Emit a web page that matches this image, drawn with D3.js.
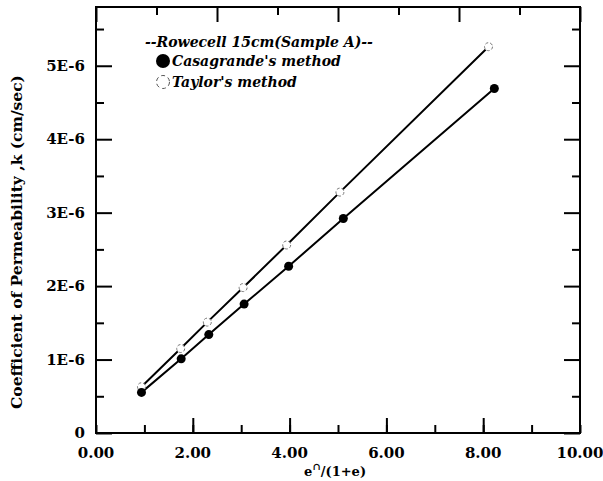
<!DOCTYPE html>
<html>
<head>
<meta charset="utf-8">
<script src="https://cdn.jsdelivr.net/npm/d3@7"></script>
<style>
  body { margin: 0; background: #fff; }
  text { font-family: "DejaVu Serif", "Liberation Serif", serif; }
</style>
</head>
<body>
<div id="chart"></div>
<script>
// values (x = e^n/(1+e), y = k in 1E-6 cm/sec)
var casaX = [0.94, 1.76, 2.33, 3.06, 3.98, 5.11, 8.23]
var casaY = [0.553, 1.01, 1.34, 1.755, 2.27, 2.92, 4.69]
var taylorX = [0.94, 1.75, 2.30, 3.04, 3.94, 5.04, 8.11]
var taylorY = [0.63, 1.15, 1.51, 1.98, 2.56, 3.28, 5.26]
var xTickLabels = ["0.00", "2.00", "4.00", "6.00", "8.00", "10.00"]
var yTickLabels = ["0", "1E-6", "2E-6", "3E-6", "4E-6", "5E-6"]

var W = 603, H = 481
var margin = { top: 7, right: 23, bottom: 48, left: 96 }
var width = W - margin.left - margin.right,
  height = H - margin.top - margin.bottom

var svg = d3.select("#chart")
  .append("svg")
  .attr("width", W)
  .attr("height", H)
  .append("g")
  .attr("transform", "translate(" + margin.left + "," + margin.top + ")");

var x = d3.scaleLinear().domain([0, 10]).range([0, width])
var y = d3.scaleLinear().domain([0, 5.8]).range([height, 0])

// frame
svg.append("rect")
  .attr("width", width).attr("height", height)
  .attr("fill", "none").attr("stroke", "#000").attr("stroke-width", 2)

// inward ticks
var xMinor = d3.range(0, 10.01, 1)
var yMinor = d3.range(0, 5.8, 0.5)
var topTicks = d3.range(0, 10.01, 1.25)

svg.append("g")
  .attr("transform", "translate(0," + height + ")")
  .call(d3.axisTop(x).tickValues(xMinor).tickSizeInner(8).tickSizeOuter(0).tickFormat(""))
svg.append("g")
  .attr("transform", "translate(0," + height + ")")
  .call(d3.axisTop(x).tickValues([2, 4, 6, 8]).tickSizeInner(15).tickSizeOuter(0).tickFormat(""))
svg.append("g")
  .call(d3.axisBottom(x).tickValues(topTicks).tickSize(0).tickFormat(""))
  .selectAll(".tick line")
  .attr("y2", function (d, i) { return i % 2 ? 8 : 15 })

svg.append("g")
  .call(d3.axisRight(y).tickValues(yMinor).tickSizeOuter(0).tickFormat("").tickSizeInner(0))
  .selectAll(".tick line")
  .attr("x2", function (d, i) { return i % 2 ? 8 : 16 })
svg.append("g")
  .attr("transform", "translate(" + width + ",0)")
  .call(d3.axisLeft(y).tickValues(yMinor).tickSizeOuter(0).tickFormat("").tickSizeInner(0))
  .selectAll(".tick line")
  .attr("x2", function (d, i) { return i % 2 ? -8 : -16 })

svg.selectAll(".domain").remove()
svg.selectAll(".tick line").attr("stroke", "#000").attr("stroke-width", 2)

// tick labels
svg.selectAll(".xlab")
  .data(xTickLabels)
  .enter()
  .append("text")
  .attr("x", function (d, i) { return x(i * 2) })
  .attr("y", height + 25)
  .attr("text-anchor", "middle")
  .attr("font-size", 15).attr("font-weight", "bold")
  .text(function (d) { return d })

svg.selectAll(".ylab")
  .data(yTickLabels)
  .enter()
  .append("text")
  .attr("x", -11)
  .attr("y", function (d, i) { return y(i) + 5 })
  .attr("text-anchor", "end")
  .attr("font-size", 15).attr("font-weight", "bold")
  .text(function (d) { return d })

// axis titles
var xt = svg.append("text")
  .attr("x", x(4.3))
  .attr("y", height + 43)
  .attr("font-size", 13).attr("font-weight", "bold")
xt.append("tspan").text("e")
xt.append("tspan").attr("dy", -6).attr("font-size", 10).text("\u2229")
xt.append("tspan").attr("dy", 6).text("/(1+e)")

svg.append("text")
  .attr("transform", "translate(" + (-74) + "," + (height / 2 + 22) + ") rotate(-90)")
  .attr("text-anchor", "middle")
  .attr("font-size", 15.5).attr("font-weight", "bold")
  .text("Coefficient of Permeability ,k (cm/sec)")

// lines and points
var line = d3.line()
  .x(function (d) { return x(d[0]) })
  .y(function (d) { return y(d[1]) })

var casa = d3.zip(casaX, casaY)
var taylor = d3.zip(taylorX, taylorY)

svg.append("path").datum(taylor).attr("d", line)
  .attr("fill", "none").attr("stroke", "#000").attr("stroke-width", 2)
svg.append("path").datum(casa).attr("d", line)
  .attr("fill", "none").attr("stroke", "#000").attr("stroke-width", 2)

svg.selectAll("myTaylor")
  .data(taylor)
  .enter()
  .append("circle")
  .attr("cx", function (d) { return x(d[0]) })
  .attr("cy", function (d) { return y(d[1]) })
  .attr("r", 4)
  .attr("fill", "#fff")
  .attr("stroke", "#777").attr("stroke-width", 1).attr("stroke-dasharray", "3,2")

svg.selectAll("myCasa")
  .data(casa)
  .enter()
  .append("circle")
  .attr("cx", function (d) { return x(d[0]) })
  .attr("cy", function (d) { return y(d[1]) })
  .attr("r", 4.5)
  .attr("fill", "#000")

// legend
var lg = svg.append("g").attr("font-style", "italic").attr("font-weight", "bold").attr("font-size", 14)
lg.append("text").attr("x", 49).attr("y", 40).text("--Rowecell 15cm(Sample A)--")
lg.append("circle").attr("cx", 67).attr("cy", 54).attr("r", 7).attr("fill", "#000")
lg.append("text").attr("x", 76).attr("y", 59).text("Casagrande's method")
lg.append("circle").attr("cx", 67).attr("cy", 75).attr("r", 6.5).attr("fill", "none")
  .attr("stroke", "#555").attr("stroke-width", 1).attr("stroke-dasharray", "4,3")
lg.append("text").attr("x", 76).attr("y", 80).text("Taylor's method")
</script>
</body>
</html>
